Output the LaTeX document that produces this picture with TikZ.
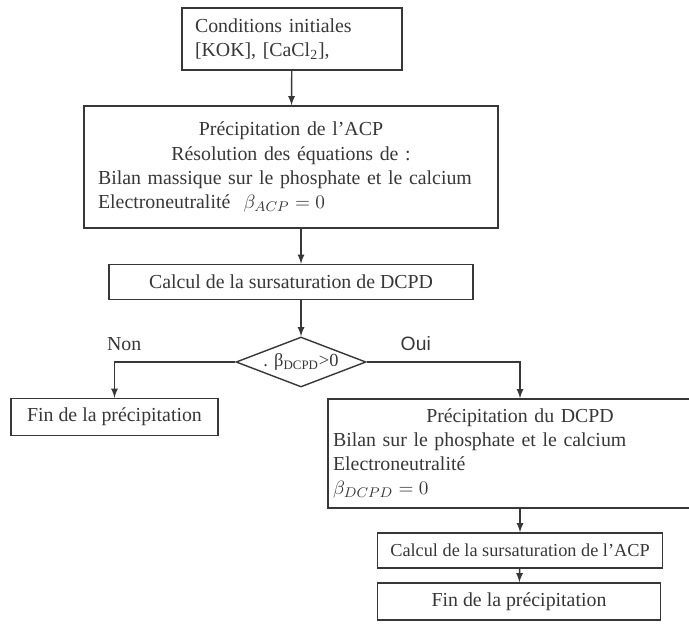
\documentclass[tikz,border=0pt]{standalone}
\usepackage{fontspec}
\setmainfont{Liberation Serif}
\newfontfamily\ouifont{Liberation Sans}
\usepackage{tikz}
\usetikzlibrary{positioning,shapes.geometric}
\definecolor{trait}{RGB}{55,55,55}

\begin{document}
\begin{tikzpicture}[x=0.02cm, y=-0.02cm, font=\fontsize{11.3}{13.7}\selectfont,
    boite/.style={draw=trait, line width=0.8pt, text=trait, inner ysep=0pt}]
    \clip (0,0) rectangle (689,633);
    \node[boite, inner xsep=0.26cm, text width=3.88cm, minimum height=1.24cm, align=left] (cond) at (292,39) {Conditions initiales\\{[KOK]}, [CaCl\textsubscript{2}],};
    \node[boite, inner xsep=0.28cm, text width=7.72cm, minimum height=2.44cm, align=left] (acp) at (291,167) {\makebox[\linewidth]{Précipitation de l’ACP}\\\makebox[\linewidth]{Résolution des équations de :}\\Bilan massique sur le phosphate et le calcium\\Electroneutralité\ \ $\beta_{ACP}=0$\\[3pt]};
    \node[boite, inner xsep=0pt, minimum width=7.28cm, minimum height=0.7cm] (calc) at (291,282) {Calcul de la sursaturation de DCPD};
    \node[draw=trait, line width=0.8pt, text=trait, diamond, aspect=2.6, inner sep=0pt, minimum width=2.6cm, minimum height=1cm, font=\fontsize{10.5}{12}\selectfont] (test) at (301,362) {. β\textsubscript{DCPD}>0};
    \node[boite, inner xsep=0pt, minimum width=4.14cm, minimum height=0.74cm] (fin1) at (114.5,417) {Fin de la précipitation};
    \node[boite, inner xsep=0.1cm, text width=7.48cm, minimum height=2.18cm, align=left] (dcpd) at (520,453.5) {\makebox[\linewidth]{Précipitation du DCPD}\\Bilan sur le phosphate et le calcium\\Electroneutralité\\$\beta_{DCPD}=0$};
    \node[boite, inner xsep=0pt, minimum width=5.7cm, minimum height=0.7cm, font=\fontsize{10.4}{12}\selectfont] (calcacp) at (520,550.5) {Calcul de la sursaturation de l’ACP};
    \node[boite, inner xsep=0pt, minimum width=5.66cm, minimum height=0.74cm] (fin2) at (519,601.5) {Fin de la précipitation};

    \draw[-latex, trait, line width=0.8pt] (cond) -- (acp);
    \draw[-latex, trait, line width=0.8pt] (acp.south -| test.north) -- (calc.north -| test.north);
    \draw[-latex, trait, line width=0.8pt] (calc.south -| test.north) -- (test.north);
    \draw[-latex, trait, line width=0.8pt] (test.west) -| node[pos=0.46, above=2.5pt, text=trait] (non) {Non} (fin1.north);
    \draw[-latex, trait, line width=0.8pt] (test.east) -| node[pos=0.16, above=2.5pt, text=trait, font=\ouifont\fontsize{11}{13}\selectfont] (oui) {Oui} (dcpd.north);
    \draw[-latex, trait, line width=0.8pt] (dcpd) -- (calcacp);
    \draw[-latex, trait, line width=0.8pt] (calcacp) -- (fin2);
\end{tikzpicture}
\end{document}
